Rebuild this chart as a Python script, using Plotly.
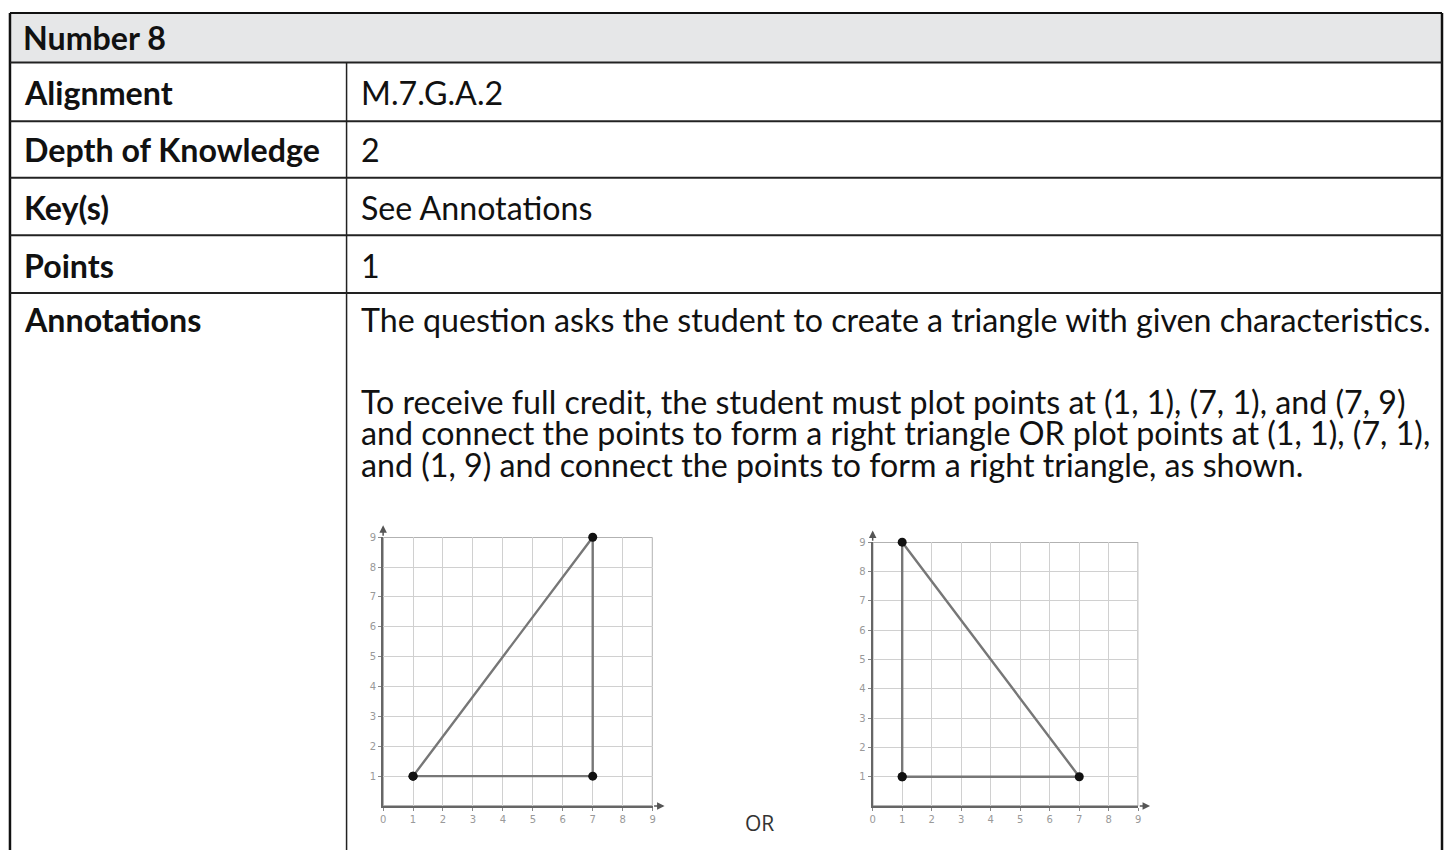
import plotly.graph_objects as go

W, H = 1447, 850

# ---- data ----
title_text = "Number 8"
row_labels = ["Alignment", "Depth of Knowledge", "Key(s)", "Points", "Annotations"]
row_values = ["M.7.G.A.2", "2", "See Annotations", "1"]
annotation_lines = [
    "The question asks the student to create a triangle with given characteristics.",
    "",
    "To receive full credit, the student must plot points at (1, 1), (7, 1), and (7, 9)",
    "and connect the points to form a right triangle OR plot points at (1, 1), (7, 1),",
    "and (1, 9) and connect the points to form a right triangle, as shown.",
]
tri_a_x = [1, 7, 7, 1]
tri_a_y = [1, 1, 9, 1]
tri_b_x = [1, 7, 1, 1]
tri_b_y = [1, 1, 9, 1]
x_ticks = [0, 1, 2, 3, 4, 5, 6, 7, 8, 9]
y_ticks = [1, 2, 3, 4, 5, 6, 7, 8, 9]
or_text = "OR"

# ---- layout helpers (page pixels -> paper) ----
def px(x):
    return x / W

def py(y):
    return 1 - y / H

L, R, T = 7, 1445, 7
col_x = 345
row_edges = [7, 57, 116, 173, 231, 289]
FS = 32.2

fig = go.Figure()

shapes = []
shapes.append(dict(type="rect", xref="paper", yref="paper",
                   x0=px(L), x1=px(R), y0=py(row_edges[1]), y1=py(T),
                   fillcolor="#e6e7e8", line=dict(width=0), layer="below"))
shapes.append(dict(type="line", xref="paper", yref="paper", x0=px(L), x1=px(R),
                   y0=py(T), y1=py(T), line=dict(color="#111", width=2)))
shapes.append(dict(type="line", xref="paper", yref="paper", x0=px(L), x1=px(L),
                   y0=py(T), y1=py(H + 20), line=dict(color="#111", width=2.5)))
shapes.append(dict(type="line", xref="paper", yref="paper", x0=px(R), x1=px(R),
                   y0=py(T), y1=py(H + 20), line=dict(color="#111", width=2.5)))
for ye in row_edges[1:]:
    shapes.append(dict(type="line", xref="paper", yref="paper", x0=px(L), x1=px(R),
                       y0=py(ye), y1=py(ye), line=dict(color="#222", width=2)))
shapes.append(dict(type="line", xref="paper", yref="paper", x0=px(col_x), x1=px(col_x),
                   y0=py(row_edges[1]), y1=py(H + 20), line=dict(color="#222", width=1.5)))

annotations = []
font_main = "Lato, 'Open Sans', sans-serif"
annotations.append(dict(xref="paper", yref="paper", x=px(18), y=py(32),
                        xanchor="left", yanchor="middle", showarrow=False,
                        text="<b>" + title_text + "</b>",
                        font=dict(family=font_main, size=FS, color="#111")))
label_centers = [87, 145, 203, 261, 316]
for lab, yc in zip(row_labels, label_centers):
    annotations.append(dict(xref="paper", yref="paper", x=px(19), y=py(yc),
                            xanchor="left", yanchor="middle", showarrow=False,
                            text="<b>" + lab + "</b>",
                            font=dict(family=font_main, size=FS, color="#111")))
for val, yc in zip(row_values, label_centers[:4]):
    annotations.append(dict(xref="paper", yref="paper", x=px(357), y=py(yc),
                            xanchor="left", yanchor="middle", showarrow=False,
                            text=val,
                            font=dict(family=font_main, size=FS, color="#111")))
line_centers = [316, 357, 398, 430, 462]
for txt, yc in zip(annotation_lines, line_centers):
    if txt:
        annotations.append(dict(xref="paper", yref="paper", x=px(357), y=py(yc),
                                xanchor="left", yanchor="middle", showarrow=False,
                                text=txt,
                                font=dict(family=font_main, size=FS, color="#111")))
annotations.append(dict(xref="paper", yref="paper", x=px(760), y=py(823),
                        xanchor="center", yanchor="middle", showarrow=False,
                        text=or_text,
                        font=dict(family="'Open Sans', sans-serif", size=21, color="#333")))

# ---- the two grids ----
grids = [
    dict(xa="x", ya="y", xd=(381.7, 652.3), yd=(535, 805.7), tx=tri_a_x, ty=tri_a_y),
    dict(xa="x2", ya="y2", xd=(873.3, 1140), yd=(540, 805.7), tx=tri_b_x, ty=tri_b_y),
]
axis_common = dict(range=[0, 9], showgrid=True, gridcolor="#d0d0d0", gridwidth=1,
                   zeroline=False, showline=True, linecolor="#666", linewidth=2,
                   ticks="outside", ticklen=3, tickcolor="#888",
                   tickfont=dict(size=10, color="#999", family="'DejaVu Sans', sans-serif"),
                   fixedrange=True)
for i, g in enumerate(grids):
    suffix = "" if i == 0 else str(i + 1)
    fig.add_trace(go.Scatter(x=g["tx"], y=g["ty"], xaxis=g["xa"], yaxis=g["ya"],
                             mode="lines+markers",
                             line=dict(color="#777", width=2.4),
                             marker=dict(color="#111", size=9),
                             showlegend=False, hoverinfo="skip", cliponaxis=False))
    fig.update_layout(**{
        "xaxis" + suffix: dict(axis_common, domain=[px(g["xd"][0]), px(g["xd"][1])],
                               anchor=g["ya"], tickvals=x_ticks,
                               ticktext=[str(v) for v in x_ticks]),
        "yaxis" + suffix: dict(axis_common, domain=[py(g["yd"][1]), py(g["yd"][0])],
                               anchor=g["xa"], tickvals=y_ticks,
                               ticktext=[str(v) for v in y_ticks]),
    })
    shapes.append(dict(type="rect", xref=g["xa"], yref=g["ya"], x0=0, x1=9, y0=0, y1=9,
                       line=dict(color="#999", width=1.5), layer="below"))
    annotations.append(dict(xref=g["xa"], yref=g["ya"], x=9.4, y=0, ax=9, ay=0,
                            axref=g["xa"], ayref=g["ya"], text="", showarrow=True,
                            arrowhead=2, arrowsize=1, arrowwidth=1.5, arrowcolor="#555"))
    annotations.append(dict(xref=g["xa"], yref=g["ya"], x=0, y=9.4, ax=0, ay=9,
                            axref=g["xa"], ayref=g["ya"], text="", showarrow=True,
                            arrowhead=2, arrowsize=1, arrowwidth=1.5, arrowcolor="#555"))

fig.update_layout(width=W, height=H, margin=dict(l=0, r=0, t=0, b=0),
                  paper_bgcolor="white", plot_bgcolor="white",
                  shapes=shapes, annotations=annotations, showlegend=False)

fig.write_html("out.html", config={"displayModeBar": False},
               post_script="document.body.style.margin='0';document.body.style.overflow='hidden';")
